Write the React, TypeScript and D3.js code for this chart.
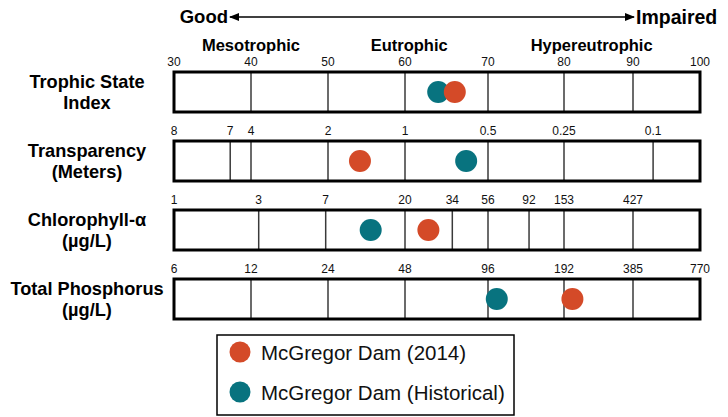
import React, { useEffect, useRef } from "react";
import * as d3 from "d3";

// TSI grid values and the row tick labels (with the TSI they sit at)
const tsiTicks = [30, 40, 50, 60, 70, 80, 90, 100];
const sdTicks = [8, 7, 4, 2, 1, 0.5, 0.25, 0.1];
const sdTickTsi = [30, 37.3, 40, 50, 60, 70, 80, 93];
const chlTicks = [1, 3, 7, 20, 34, 56, 92, 153, 427];
const chlTickTsi = [30, 41, 49.7, 60, 65.7, 70, 75.4, 80, 90];
const tpTicks = [6, 12, 24, 48, 96, 192, 385, 770];
const tpTickTsi = [30, 40, 50, 60, 70, 80, 90, 100];

const rowLabels = [
  ["Trophic State", "Index"],
  ["Transparency", "(Meters)"],
  ["Chlorophyll-α", "(µg/L)"],
  ["Total Phosphorus", "(µg/L)"],
];

const categories = [
  { name: "Mesotrophic", tsi: 40 },
  { name: "Eutrophic", tsi: 60.5 },
  { name: "Hypereutrophic", tsi: 84 },
];

// TSI, Secchi depth (m), chlorophyll (µg/L), total phosphorus (µg/L)
const series2014 = [66, 1.5, 26, 209];
const seriesHistorical = [64, 0.6, 12.7, 104];

const seriesNames = ["McGregor Dam (2014)", "McGregor Dam (Historical)"];
const seriesColors = ["#d44a28", "#08737f"];

const W = 728;
const H = 417;
const FONT = "Arial, 'Liberation Sans', Helvetica, sans-serif";

const App = () => {
  const svgRef = useRef<SVGSVGElement>(null);

  useEffect(() => {
    const svg = d3.select(svgRef.current);
    svg.selectAll("*").remove();

    const boxLeft = 174;
    const boxRight = 700;
    const boxH = 40;
    const rowTop = [72, 141, 210, 279];

    // the grid in the reference is a little uneven, so piecewise
    const x = d3
      .scaleLinear()
      .domain(tsiTicks)
      .range([boxLeft, 251, 328, 405, 488, 564, 633, boxRight]);

    const rows = [
      { ticks: tsiTicks, toTsi: d3.scaleLinear().domain(tsiTicks).range(tsiTicks) },
      { ticks: sdTicks, toTsi: d3.scaleLog().domain(sdTicks).range(sdTickTsi) },
      { ticks: chlTicks, toTsi: d3.scaleLog().domain(chlTicks).range(chlTickTsi) },
      { ticks: tpTicks, toTsi: d3.scaleLog().domain(tpTicks).range(tpTickTsi) },
    ];

    // header arrow
    const defs = svg.append("defs");
    defs
      .append("marker")
      .attr("id", "arr")
      .attr("viewBox", "0 0 10 10")
      .attr("refX", 9)
      .attr("refY", 5)
      .attr("markerWidth", 7)
      .attr("markerHeight", 7)
      .attr("orient", "auto-start-reverse")
      .append("path")
      .attr("d", "M0,1 L10,5 L0,9 Z")
      .attr("fill", "#000");

    svg
      .append("line")
      .attr("x1", 230)
      .attr("x2", 634)
      .attr("y1", 17)
      .attr("y2", 17)
      .attr("stroke", "#000")
      .attr("stroke-width", 1.5)
      .attr("marker-start", "url(#arr)")
      .attr("marker-end", "url(#arr)");

    svg
      .append("text")
      .attr("x", 228)
      .attr("y", 23)
      .attr("text-anchor", "end")
      .attr("font-weight", "bold")
      .attr("font-size", 18.5)
      .text("Good");
    svg
      .append("text")
      .attr("x", 636)
      .attr("y", 23.5)
      .attr("font-weight", "bold")
      .attr("font-size", 19.5)
      .text("Impaired");

    svg
      .selectAll(".cat")
      .data(categories)
      .enter()
      .append("text")
      .attr("class", "cat")
      .attr("x", (d) => x(d.tsi))
      .attr("y", 51)
      .attr("text-anchor", "middle")
      .attr("font-weight", "bold")
      .attr("font-size", 16.5)
      .text((d) => d.name);

    rows.forEach((row, i) => {
      const top = rowTop[i];
      const g = svg.append("g");

      // interior divisions
      g.selectAll("line")
        .data(row.ticks.filter((t) => row.toTsi(t) > 30 && row.toTsi(t) < 100))
        .enter()
        .append("line")
        .attr("x1", (d) => x(row.toTsi(d)))
        .attr("x2", (d) => x(row.toTsi(d)))
        .attr("y1", top)
        .attr("y2", top + boxH)
        .attr("stroke", "#3a3a3a")
        .attr("stroke-width", 1.5);

      g.append("rect")
        .attr("x", boxLeft)
        .attr("y", top)
        .attr("width", boxRight - boxLeft)
        .attr("height", boxH)
        .attr("fill", "none")
        .attr("stroke", "#000")
        .attr("stroke-width", 3);

      g.selectAll(".tick")
        .data(row.ticks)
        .enter()
        .append("text")
        .attr("class", "tick")
        .attr("x", (d) => x(row.toTsi(d)))
        .attr("y", top - 6)
        .attr("text-anchor", "middle")
        .attr("font-size", 12)
        .attr("fill", "#111")
        .text((d) => String(d));

      // row label
      const cy = top + boxH / 2;
      g.selectAll(".lab")
        .data(rowLabels[i])
        .enter()
        .append("text")
        .attr("class", "lab")
        .attr("x", 87)
        .attr("y", (d, j) => cy - 4 + j * 21)
        .attr("text-anchor", "middle")
        .attr("font-weight", "bold")
        .attr("font-size", 18.2)
        .text((d) => d);

      // dots: historical first, 2014 on top
      [seriesHistorical, series2014].forEach((s, k) => {
        g.append("circle")
          .attr("cx", x(row.toTsi(s[i])))
          .attr("cy", cy)
          .attr("r", 11)
          .attr("fill", seriesColors[1 - k]);
      });
    });

    // legend
    const lg = svg.append("g");
    lg.append("rect")
      .attr("x", 217)
      .attr("y", 335)
      .attr("width", 297)
      .attr("height", 80)
      .attr("fill", "#fff")
      .attr("stroke", "#000")
      .attr("stroke-width", 1.5);
    seriesNames.forEach((name, k) => {
      const y = 352 + k * 40;
      lg.append("circle")
        .attr("cx", 240)
        .attr("cy", y)
        .attr("r", 10.5)
        .attr("fill", seriesColors[k]);
      lg.append("text")
        .attr("x", 261)
        .attr("y", y + 7.5)
        .attr("font-size", 20.5)
        .attr("fill", "#111")
        .text(name);
    });
  }, []);

  return (
    <svg
      ref={svgRef}
      width={W}
      height={H}
      style={{ position: "absolute", left: 0, top: 0, background: "#fff", fontFamily: FONT }}
    ></svg>
  );
};

export default App;
